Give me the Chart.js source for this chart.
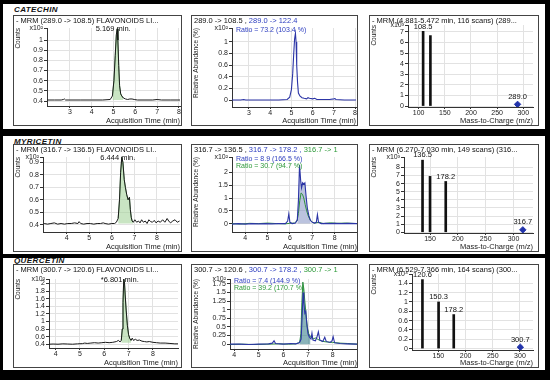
<!DOCTYPE html>
<html>
<head>
<meta charset="utf-8">
<script src="https://cdn.jsdelivr.net/npm/chart.js@4.4.1/dist/chart.umd.min.js"></script>
<style>
html, body { margin: 0; padding: 0; background: #000; }
body { width: 550px; height: 380px; position: relative; overflow: hidden; font-family: "Liberation Sans", Arial, sans-serif; }
.row { position: absolute; background: #fff; }
.name { position: absolute; font: italic bold 8px "Liberation Sans", Arial, sans-serif; color: #111; letter-spacing: 0.4px; }
.frame { position: absolute; border: 1px solid #444; background: #fff; box-sizing: border-box; }
.hdr { position: absolute; left: 2px; top: 0; white-space: nowrap; overflow: hidden; font-size: 7.5px; line-height: 9px; color: #111; }
.ratio { position: absolute; white-space: nowrap; font-size: 7px; line-height: 7px; }
</style>
</head>
<body>
<script>
// ---- data ----
var compounds = ["CATECHIN", "MYRICETIN", "QUERCETIN"];

// quantifier chromatograms [time min, counts x10^2]
var catQuant = [[1.95,0.41],[2.3,0.41],[2.6,0.41],[2.7,0.415],[2.75,0.42],[2.8,0.41],[3.0,0.41],[3.5,0.41],[4.0,0.41],[4.5,0.41],[4.85,0.415],[4.95,0.45],[5.02,0.6],[5.08,0.85],[5.13,1.05],[5.17,1.11],[5.2,1.0],[5.24,0.75],[5.28,0.55],[5.33,0.47],[5.38,0.45],[5.45,0.43],[5.55,0.42],[5.65,0.415],[5.75,0.42],[5.85,0.42],[5.95,0.415],[6.1,0.41],[6.4,0.41],[6.8,0.41],[7.0,0.415],[7.2,0.41],[7.6,0.41],[8.05,0.41]];
var myrQuant = [[3.0,0.41],[3.15,0.405],[3.3,0.41],[3.45,0.415],[3.6,0.405],[3.75,0.41],[3.9,0.405],[4.05,0.41],[4.2,0.41],[4.35,0.415],[4.5,0.41],[4.55,0.425],[4.62,0.41],[4.75,0.405],[4.9,0.41],[5.05,0.41],[5.2,0.405],[5.35,0.41],[5.5,0.41],[5.62,0.415],[5.7,0.41],[5.85,0.405],[6.0,0.41],[6.12,0.41],[6.2,0.42],[6.28,0.45],[6.34,0.6],[6.39,0.82],[6.44,0.94],[6.49,0.9],[6.55,0.76],[6.6,0.7],[6.66,0.64],[6.72,0.6],[6.78,0.62],[6.82,0.52],[6.86,0.46],[6.9,0.43],[6.95,0.42],[7.02,0.44],[7.1,0.42],[7.18,0.43],[7.25,0.415],[7.32,0.44],[7.4,0.42],[7.48,0.43],[7.56,0.41],[7.64,0.44],[7.72,0.425],[7.8,0.42],[7.88,0.435],[7.96,0.415],[8.05,0.43],[8.15,0.42],[8.25,0.44],[8.35,0.42],[8.45,0.45],[8.52,0.43],[8.6,0.415],[8.7,0.43],[8.8,0.44],[8.9,0.42],[9.0,0.43]];
var qucQuant = [[3.73,0.4],[3.9,0.405],[4.1,0.4],[4.3,0.41],[4.5,0.405],[4.7,0.4],[4.9,0.41],[5.1,0.415],[5.2,0.43],[5.3,0.42],[5.45,0.43],[5.6,0.44],[5.75,0.43],[5.9,0.44],[6.05,0.45],[6.2,0.44],[6.35,0.45],[6.5,0.47],[6.58,0.5],[6.65,0.46],[6.7,0.5],[6.74,0.8],[6.77,1.5],[6.8,2.12],[6.83,2.05],[6.86,1.7],[6.9,1.3],[6.95,0.9],[7.0,0.65],[7.05,0.55],[7.1,0.5],[7.15,0.56],[7.2,0.5],[7.28,0.53],[7.35,0.5],[7.45,0.51],[7.55,0.48],[7.65,0.47],[7.75,0.46],[7.85,0.47],[8.0,0.45],[8.15,0.44],[8.3,0.43],[8.5,0.43],[8.7,0.42],[8.9,0.41],[9.03,0.41]];

// qualifier overlays [time min, relative abundance x10^2]
var catQual1 = [[2.2,0],[2.6,0],[2.75,0.01],[2.85,0],[3.2,0],[3.8,0],[4.4,0],[4.8,0.01],[4.92,0.05],[5.0,0.18],[5.06,0.45],[5.11,0.8],[5.15,1.05],[5.19,1.15],[5.22,1.0],[5.25,0.6],[5.29,0.3],[5.33,0.12],[5.4,0.07],[5.5,0.04],[5.6,0.03],[5.72,0.02],[5.78,0.04],[5.85,0.03],[6.0,0.02],[6.1,0.03],[6.2,0.01],[6.5,0.01],[6.8,0.01],[7.0,0.02],[7.05,0.025],[7.1,0.01],[7.5,0],[8.05,0]];
var myrQual1 = [[3.41,-0.02],[3.7,0],[4.0,-0.02],[4.3,0],[4.6,-0.01],[4.9,0],[5.2,-0.01],[5.5,0],[5.8,0],[5.9,0.1],[5.95,0.38],[6.0,0.05],[6.1,0],[6.25,0.02],[6.33,0.15],[6.38,0.9],[6.43,2.3],[6.48,1.7],[6.52,1.4],[6.57,1.6],[6.62,1.55],[6.67,1.6],[6.72,1.1],[6.78,0.6],[6.85,0.3],[6.92,0.12],[7.0,0.05],[7.1,0.02],[7.18,0.05],[7.23,0.35],[7.28,0.05],[7.4,0],[7.6,0.01],[7.8,0],[8.0,0.01],[8.3,0],[8.6,0.01],[9.0,0]];
var myrQual2 = [[3.41,0],[3.8,-0.02],[4.2,0.01],[4.6,0],[5.0,0.02],[5.4,0],[5.8,-0.01],[6.0,0.01],[6.2,0.02],[6.32,0.1],[6.38,0.4],[6.44,0.9],[6.5,1.2],[6.56,1.15],[6.62,1.0],[6.68,0.75],[6.75,0.5],[6.82,0.3],[6.9,0.15],[7.0,0.05],[7.1,0.02],[7.3,0.05],[7.5,0],[7.8,0.03],[8.1,0.01],[8.5,0.02],[9.0,0]];
var qucQual1 = [[3.83,0],[4.2,0],[4.6,-0.01],[5.0,0],[5.4,0.01],[5.55,0.03],[5.62,0.1],[5.68,0.02],[6.0,0],[6.3,0.02],[6.5,0.01],[6.65,0.04],[6.72,0.15],[6.76,0.8],[6.8,1.5],[6.83,1.2],[6.87,0.9],[6.91,0.95],[6.95,0.6],[7.0,0.3],[7.06,0.2],[7.12,0.15],[7.16,0.32],[7.2,0.12],[7.3,0.1],[7.36,0.2],[7.42,0.36],[7.48,0.12],[7.6,0.08],[7.68,0.2],[7.74,0.08],[7.9,0.05],[7.98,0.1],[8.02,0.22],[8.08,0.04],[8.3,0.02],[8.6,0.01],[9.0,0]];
var qucQual2 = [[3.83,-0.01],[4.3,0],[4.8,-0.01],[5.3,0],[5.8,0.01],[6.2,0],[6.5,0.01],[6.66,0.05],[6.71,0.3],[6.75,1.2],[6.79,1.8],[6.83,1.6],[6.87,1.25],[6.92,0.85],[6.97,0.5],[7.03,0.3],[7.1,0.22],[7.2,0.15],[7.3,0.18],[7.45,0.12],[7.6,0.08],[7.8,0.06],[8.0,0.05],[8.3,0.03],[8.6,0.02],[9.0,0]];

// peak windows (start, end, baseline) and retention times
var peakWindows = [[4.95, 5.45, 0.41], [6.28, 6.95, 0.41], [6.7, 7.1, 0.44]];
var qualFillWindows = [null, [6.33, 6.92], [6.66, 7.1]];
var peakTimes = [5.169, 6.444, 6.801];
var peakLabels = ["5.169 min.", "6.444 min.", "*6.801 min."];

// product ion spectra: m/z, counts, labels; precursor marker
var catMz = [108.5, 122.4], catCounts = [7.05, 6.65], catMzLabels = ["108.5", ""];
var myrMz = [136.5, 150.0, 178.2], myrCounts = [8.9, 6.9, 6.27], myrMzLabels = ["136.5", "", "178.2"];
var qucMz = [120.6, 150.3, 178.2], qucCounts = [1.48, 1.0, 0.73], qucMzLabels = ["120.6", "150.3", "178.2"];
var precursorMz = [289.0, 316.7, 300.7];
var precursorCounts = [0.16, 0.3, 0.03];

// tick values
var catQuantTicks = [0.4, 0.5, 0.6, 0.7, 0.8, 0.9, 1];
var myrQuantTicks = [0.4, 0.5, 0.6, 0.7, 0.8, 0.9];
var qucQuantTicks = [0.4, 0.6, 0.8, 1, 1.2, 1.4, 1.6, 1.8, 2];
var catQualTicks = [0, 0.2, 0.4, 0.6, 0.8, 1];
var myrQualTicks = [0, 0.5, 1, 1.5, 2];
var qucQualTicks = [0, 0.25, 0.5, 0.75, 1, 1.25, 1.5, 1.75];
var catSpecTicks = [0, 1, 2, 3, 4, 5, 6, 7];
var myrSpecTicks = [0, 1, 2, 3, 4, 5, 6, 7, 8];
var qucSpecTicks = [0, 0.2, 0.4, 0.6, 0.8, 1, 1.2, 1.4];
var catTimeTicks = [3, 4, 5, 6, 7, 8];
var laterTimeTicks = [4, 5, 6, 7, 8];
var catMzTicks = [100, 150, 200, 250, 300];
var laterMzTicks = [150, 200, 250, 300];

// ---- layout ----
var FAM = "'Liberation Sans', Arial, sans-serif";
var BLUE = "#2c35a6", GREEN = "#2f8f3f", TXTBLUE = "#3040c0", TXTGREEN = "#2e9a3a";
Chart.defaults.font.family = FAM;
Chart.defaults.animation = false;

var rows = [[3, 4, 542, 125], [3, 136, 542, 118], [3, 258, 542, 112]];
var namePos = [[14, 5], [14, 137], [14, 256]];
rows.forEach(function (r, i) {
  var d = document.createElement("div");
  d.className = "row";
  d.style.cssText = "left:" + r[0] + "px;top:" + r[1] + "px;width:" + r[2] + "px;height:" + r[3] + "px";
  document.body.appendChild(d);
  var n = document.createElement("div");
  n.className = "name";
  n.style.left = namePos[i][0] + "px";
  n.style.top = namePos[i][1] + "px";
  n.textContent = compounds[i];
  document.body.appendChild(n);
});

function xy(arr) { return arr.map(function (p) { return { x: p[0], y: p[1] }; }); }
function within(arr, a, b) { return xy(arr.filter(function (p) { return p[0] >= a && p[0] <= b; })); }
function pairs(xs, ys) { return xs.map(function (x, i) { return { x: x, y: ys[i] }; }); }

function makePanel(p) {
  var fr = document.createElement("div");
  fr.className = "frame";
  fr.style.cssText = "left:" + p.frame[0] + "px;top:" + p.frame[1] + "px;width:" + p.frame[2] + "px;height:" + p.frame[3] + "px";
  document.body.appendChild(fr);
  var cw = p.frame[2] - 2, ch = p.frame[3] - 2;
  var cx = p.frame[0] + 1, cy = p.frame[1] + 1;
  var cv = document.createElement("canvas");
  cv.width = cw; cv.height = ch;
  cv.style.cssText = "position:absolute;left:0;top:0;width:" + cw + "px;height:" + ch + "px";
  fr.appendChild(cv);

  var hdr = document.createElement("div");
  hdr.className = "hdr";
  hdr.style.width = (p.frame[2] - 5) + "px";
  p.header.forEach(function (h) {
    var s = document.createElement("span");
    s.textContent = h[0];
    s.style.color = h[1];
    hdr.appendChild(s);
  });
  fr.appendChild(hdr);

  (p.ratios || []).forEach(function (r, i) {
    var d = document.createElement("div");
    d.className = "ratio";
    d.style.left = (p.plot[0] - cx + 4) + "px";
    d.style.top = (p.plot[1] - cy - 2 + i * 7) + "px";
    d.style.color = r[1];
    d.textContent = r[0];
    fr.appendChild(d);
  });

  var yw = p.plot[0] - cx, xh = cy + ch - p.plot[3];
  var labelPlugin = {
    id: "panelLabels",
    afterDatasetsDraw: function (chart) {
      var c = chart.ctx;
      c.save();
      c.fillStyle = "#111";
      c.font = "7.5px " + FAM;
      c.textAlign = "center";
      if (p.peakText) {
        c.textBaseline = "middle";
        c.fillText(p.peakText, chart.scales.x.getPixelForValue(p.peakTime) - 4, chart.chartArea.top + 1);
      }
      if (p.barLabels) {
        c.textBaseline = "bottom";
        chart.getDatasetMeta(0).data.forEach(function (el, i) {
          if (p.barLabels[i]) c.fillText(p.barLabels[i], el.x, el.y - 1);
        });
        chart.getDatasetMeta(1).data.forEach(function (el) {
          c.fillText(p.markerLabel, el.x, el.y - 4);
        });
      }
      c.restore();
    }
  };

  new Chart(cv, {
    type: p.type,
    data: { datasets: p.datasets },
    options: {
      responsive: false,
      events: [],
      layout: { padding: { top: p.plot[1] - cy, right: cx + cw - p.plot[2], left: 0, bottom: 0 } },
      plugins: { legend: { display: false }, tooltip: { enabled: false } },
      elements: { point: { radius: 0 }, line: { tension: 0, borderWidth: 1 } },
      scales: {
        x: {
          type: "linear", min: p.xMin, max: p.xMax, offset: false,
          afterBuildTicks: function (s) { s.ticks = p.xTicks.map(function (v) { return { value: v }; }); },
          afterFit: function (s) { s.height = xh; },
          ticks: { autoSkip: false, maxRotation: 0, padding: 0, color: "#222", font: { size: 7 }, callback: function (v) { return String(v); } },
          grid: { offset: false, color: "#e2e2e2", tickColor: "#333", tickLength: 2 },
          border: { color: "#333" },
          title: { display: true, text: p.xTitle, align: "end", color: "#222", font: { size: 7.5 }, padding: { top: 0, bottom: 0 } }
        },
        y: {
          min: p.yMin, max: p.yMax,
          afterBuildTicks: function (s) { s.ticks = p.yTicks.map(function (v) { return { value: v }; }).concat([{ value: p.yMax }]); },
          afterFit: function (s) { s.width = yw; },
          ticks: { autoSkip: false, padding: 1, color: "#222", font: { size: 7 }, callback: function (v, i, t) { return i === t.length - 1 ? "x10" + p.exp : String(v); } },
          grid: { color: function (c) { return c.index === c.scale.ticks.length - 1 ? "rgba(0,0,0,0)" : "#e2e2e2"; }, tickColor: "#333", tickLength: 3 },
          border: { color: "#333" },
          title: { display: true, text: p.yTitle, align: "end", color: "#222", font: { size: 6.5 }, padding: { top: 0, bottom: 1 } }
        }
      }
    },
    plugins: [labelPlugin]
  });
}

function quantSets(pts, i) {
  var w = peakWindows[i];
  return [
    { data: xy(pts), borderColor: "#1a1a1a", borderWidth: 1, fill: false },
    { data: within(pts, w[0], w[1]), borderColor: "rgba(70,150,70,0.9)", borderWidth: 0.8, backgroundColor: "rgba(165,212,155,0.6)", fill: { value: w[2] } }
  ];
}
function qualSets(q1, q2, i, fillColor) {
  var sets = [{ data: xy(q1), borderColor: BLUE, borderWidth: 1.1, fill: false }];
  if (q2) sets.push({ data: xy(q2), borderColor: GREEN, borderWidth: 1, fill: false });
  var w = qualFillWindows[i];
  if (w) sets.push({ data: within(q2 && i === 2 ? q2 : q1, w[0], w[1]), borderWidth: 0, backgroundColor: fillColor, fill: { value: 0 } });
  return sets;
}
function specSets(mz, counts, i) {
  return [
    { type: "bar", data: pairs(mz, counts), backgroundColor: "#111", barThickness: 2 },
    { type: "scatter", data: [{ x: precursorMz[i], y: precursorCounts[i] }], pointStyle: "rectRot", pointRadius: 3.2, backgroundColor: "#2233aa", borderColor: "#2233aa" }
  ];
}

var TIME = "Acquisition Time (min)", MZ = "Mass-to-Charge (m/z)", RA = "Relative Abundance (%)";
var K = "#111";

var panels = [
  { type: "line", frame: [13, 15, 169, 111], plot: [47, 28, 180, 106], xMin: 1.95, xMax: 8.05, yMin: 0.351, yMax: 1.118,
    xTicks: catTimeTicks, yTicks: catQuantTicks, exp: "\u00b2", xTitle: TIME, yTitle: "Counts",
    header: [["- MRM (289.0 -> 108.5) FLAVONOIDS  LI...", K]], peakTime: peakTimes[0], peakText: peakLabels[0], datasets: quantSets(catQuant, 0) },
  { type: "line", frame: [191, 15, 167, 111], plot: [232, 28, 357, 107], xMin: 2.2, xMax: 8.05, yMin: -0.12, yMax: 1.24,
    xTicks: catTimeTicks, yTicks: catQualTicks, exp: "\u00b2", xTitle: TIME, yTitle: RA,
    header: [["289.0 -> 108.5 , ", K], ["289.0 -> 122.4", TXTBLUE]], ratios: [["Ratio = 73.2 (103.4 %)", TXTBLUE]], datasets: qualSets(catQual1, null, 0) },
  { type: "bar", frame: [369, 15, 170, 111], plot: [408, 25, 537, 107], xMin: 79.6, xMax: 318.5, yMin: -0.09, yMax: 7.65,
    xTicks: catMzTicks, yTicks: catSpecTicks, exp: "\u00b3", xTitle: MZ, yTitle: "Counts",
    header: [["- MRM (4.881-5.472 min, 116 scans) (289...", K]], barLabels: catMzLabels, markerLabel: "289.0", datasets: specSets(catMz, catCounts, 0) },

  { type: "line", frame: [13, 144, 169, 108], plot: [43, 157, 180, 232], xMin: 2.95, xMax: 9.02, yMin: 0.342, yMax: 0.942,
    xTicks: laterTimeTicks, yTicks: myrQuantTicks, exp: "\u00b2", xTitle: TIME, yTitle: "Counts",
    header: [["- MRM (316.7 -> 136.5) FLAVONOIDS  LI..", K]], peakTime: peakTimes[1], peakText: peakLabels[1], datasets: quantSets(myrQuant, 1) },
  { type: "line", frame: [191, 144, 167, 108], plot: [232, 157, 357, 232], xMin: 3.41, xMax: 9.0, yMin: -0.33, yMax: 2.61,
    xTicks: laterTimeTicks, yTicks: myrQualTicks, exp: "\u00b2", xTitle: TIME, yTitle: RA,
    header: [["316.7 -> 136.5 , ", K], ["316.7 -> 178.2 , ", TXTBLUE], ["316.7 -> 1", TXTGREEN]],
    ratios: [["Ratio = 8.9 (166.5 %)", TXTBLUE], ["Ratio = 30.7 (94.7 %)", TXTGREEN]], datasets: qualSets(myrQual1, myrQual2, 1, "rgba(120,135,190,0.5)") },
  { type: "bar", frame: [369, 144, 170, 108], plot: [404, 157, 537, 233], xMin: 103.2, xMax: 335, yMin: -0.09, yMax: 9.29,
    xTicks: laterMzTicks, yTicks: myrSpecTicks, exp: "\u00b3", xTitle: MZ, yTitle: "Counts",
    header: [["- MRM (6.270-7.030 min, 149 scans) (316...", K]], barLabels: myrMzLabels, markerLabel: "316.7", datasets: specSets(myrMz, myrCounts, 1) },

  { type: "line", frame: [13, 264, 169, 104], plot: [49, 279, 178, 348], xMin: 3.73, xMax: 9.03, yMin: 0.30, yMax: 2.12,
    xTicks: laterTimeTicks, yTicks: qucQuantTicks, exp: "\u00b2", xTitle: TIME, yTitle: "Counts",
    header: [["- MRM (300.7 -> 120.6) FLAVONOIDS  LI...", K]], peakTime: peakTimes[2], peakText: peakLabels[2], datasets: quantSets(qucQuant, 2) },
  { type: "line", frame: [191, 264, 167, 104], plot: [230, 279, 357, 349], xMin: 3.83, xMax: 8.99, yMin: -0.14, yMax: 1.89,
    xTicks: laterTimeTicks, yTicks: qucQualTicks, exp: "\u00b2", xTitle: TIME, yTitle: RA,
    header: [["300.7 -> 120.6 , ", K], ["300.7 -> 178.2 , ", TXTBLUE], ["300.7 -> 1", TXTGREEN]],
    ratios: [["Ratio = 7.4 (144.9 %)", TXTBLUE], ["Ratio = 39.2 (170.7 %)", TXTGREEN]], datasets: qualSets(qucQual1, qucQual2, 2, "rgba(60,130,140,0.6)") },
  { type: "bar", frame: [369, 264, 170, 104], plot: [412, 274, 537, 350], xMin: 101.4, xMax: 324, yMin: -0.03, yMax: 1.6,
    xTicks: laterMzTicks, yTicks: qucSpecTicks, exp: "\u2074", xTitle: MZ, yTitle: "Counts",
    header: [["- MRM (6.529-7.366 min, 164 scans) (300...", K]], barLabels: qucMzLabels, markerLabel: "300.7", datasets: specSets(qucMz, qucCounts, 2) }
];

panels.forEach(makePanel);
</script>
</body>
</html>
